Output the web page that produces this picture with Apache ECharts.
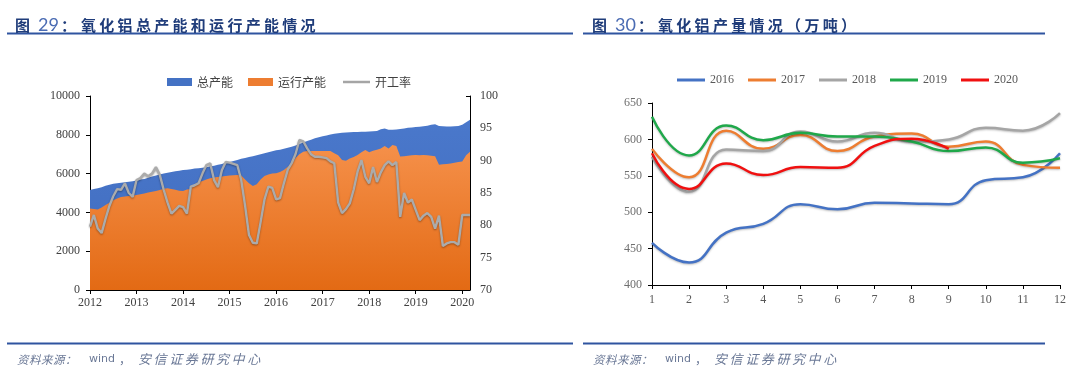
<!DOCTYPE html>
<html><head><meta charset="utf-8">
<script src="https://cdn.jsdelivr.net/npm/echarts@6/dist/echarts.min.js"></script>
<style>html,body{margin:0;padding:0;background:#fff}#c{width:1080px;height:375px}</style>
</head><body><div id="c"></div>
<script>
// ---------- Data: left chart (monthly, 2012-01 .. 2020-03) ----------
const years = [2012,2013,2014,2015,2016,2017,2018,2019,2020];
const monthCount = 99;
const monthCats = [];
years.forEach(y => { for (let m = 1; m <= 12; m++) { if (monthCats.length < monthCount) monthCats.push(y + '-' + (m < 10 ? '0' + m : m)); } });

const totalCapacity = [
  5150,5200,5250,5300,5380,5420,5480,5500,5530,5560,5580,5600,
  5650,5700,5720,5780,5850,5900,5950,6000,6050,6080,6120,6150,
  6180,6200,6230,6260,6280,6300,6330,6360,6400,6450,6500,6560,
  6600,6650,6700,6760,6800,6850,6900,6950,7000,7050,7100,7150,
  7200,7230,7280,7330,7380,7450,7520,7600,7680,7750,7820,7880,
  7930,7970,8010,8050,8080,8100,8120,8130,8140,8150,8160,8160,
  8170,8180,8200,8280,8320,8260,8260,8270,8300,8330,8360,8380,
  8400,8420,8440,8470,8520,8540,8450,8440,8430,8430,8440,8460,
  8520,8650,8780
];
const runningCapacity = [
  4200,4180,4150,4250,4380,4500,4620,4720,4800,4820,4840,4860,
  4900,4930,4980,5020,5060,5100,5150,5220,5250,5200,5170,5120,
  5100,5180,5200,5450,5550,5620,5700,5760,5800,5820,5850,5880,
  5900,5920,5930,5900,5700,5500,5360,5450,5700,5880,5950,6000,
  6020,6080,6180,6350,6500,6800,7000,7120,7160,7170,7170,7160,
  7170,7170,7160,7050,6950,6700,6660,6780,6850,6960,7100,7220,
  7100,7180,7230,7300,7420,7300,7480,7420,6880,6900,6920,6940,
  6960,6950,6960,6940,6920,6900,6460,6480,6500,6520,6560,6600,
  6620,6950,7130
];
const operatingRate = [
  79.8,81.6,79.5,78.8,81.0,83.0,84.5,85.6,85.5,86.5,85.0,84.4,
  87.0,87.3,88.0,87.6,88.0,89.0,87.8,85.5,83.5,81.8,82.4,83.0,
  82.8,81.8,86.0,86.2,86.5,88.0,89.3,89.6,87.0,85.9,88.5,89.8,
  89.7,89.5,89.3,87.0,83.0,78.5,77.3,77.2,80.5,84.0,86.0,85.8,
  84.0,84.2,86.5,88.6,89.6,91.0,93.2,93.0,91.9,91.0,90.6,90.6,
  90.5,90.4,89.9,89.6,83.5,81.9,82.5,83.4,85.5,88.3,90.1,87.5,
  86.5,89.0,86.7,88.2,89.3,89.9,89.3,89.8,81.3,85.0,83.5,84.0,
  82.4,80.8,81.5,81.9,81.3,79.5,81.5,76.8,77.2,77.4,77.4,77.0,
  81.6,81.6,81.6
];

// ---------- Data: right chart ----------
const monthNums = ['1','2','3','4','5','6','7','8','9','10','11','12'];
const prod2016 = [458,431,472,484,511,504,513,512,511,544,548,581];
const prod2017 = [587,548,612,587,606,584,604,608,590,597,565,561];
const prod2018 = [576,528,586,584,611,597,609,597,600,616,612,636];
const prod2019 = [631,578,619,599,609,604,604,597,584,589,568,574];
const prod2020 = [581,532,567,551,562,561,591,601,587];

// ---------- Text ----------
const title1Num = '29', title1Body = '氧化铝总产能和运行产能情况';
const title2Num = '30', title2Body = '氧化铝产量情况（万吨）';
const sourceA = ['资','料','来','源','：'], sourceW = 'wind', sourceB = ['安','信','证','券','研','究','中','心'];

const serif = '"Liberation Serif","DejaVu Serif",serif';
const cjk = '"Noto Sans CJK SC","Noto Sans",sans-serif';
const navy = '#1F3C7A';
const lineBlue = '#2F54A0';

function titleText(num, body) {
  return '{a|图}{n|' + num + '}{c|：}' + body.split('').map(ch => '{t|' + ch + '}').join('');
}
const titleRich = {
  a: {fontFamily: cjk, fontSize: 15, fontWeight: 'bold', color: navy, width: 23},
  n: {fontFamily: 'Lato, "Open Sans", sans-serif', fontSize: 18, fontWeight: 'normal', color: '#4A6BB3', width: 23},
  c: {fontFamily: cjk, fontSize: 15, fontWeight: 'bold', color: navy, width: 20},
  t: {fontFamily: cjk, fontSize: 15, fontWeight: 'bold', color: navy, width: 18.3}
};
function sourceText() {
  return sourceA.map((ch, i) => (i === 4 ? '{p|' : '{s|') + ch + '}').join('') + '{w|' + sourceW + '}{q|，}' + sourceB.map(ch => '{b|' + ch + '}').join('');
}
const srcColor = '#6A7896';
const sourceRich = {
  s: {fontFamily: cjk, fontSize: 11.5, fontWeight: 'normal', fontStyle: 'italic', color: srcColor, width: 12, verticalAlign: 'middle'},
  p: {fontFamily: cjk, fontSize: 11.5, fontWeight: 'normal', fontStyle: 'italic', color: srcColor, width: 24, verticalAlign: 'middle'},
  w: {fontFamily: '"DejaVu Sans",sans-serif', fontSize: 11, fontWeight: 'normal', color: srcColor, width: 30, verticalAlign: 'middle'},
  q: {fontFamily: cjk, fontSize: 12, fontWeight: 'normal', color: srcColor, width: 19, verticalAlign: 'middle'},
  b: {fontFamily: cjk, fontSize: 13, fontWeight: 'normal', fontStyle: 'italic', color: srcColor, width: 15.6, verticalAlign: 'middle'}
};

const chart = echarts.init(document.getElementById('c'));
const isJan = (i, v) => v.slice(5) === '01';
const axisBlack = {lineStyle: {color: '#000', width: 1}};
const plainNum = v => String(v);

chart.setOption({
  animation: false,
  backgroundColor: '#fff',
  title: [
    {text: titleText(title1Num, title1Body), left: 10, top: 11, textStyle: {rich: titleRich}},
    {text: titleText(title2Num, title2Body), left: 587, top: 11, textStyle: {rich: titleRich}},
    {text: sourceText(), left: 12, top: 348, textStyle: {fontWeight: 'normal', rich: sourceRich}},
    {text: sourceText(), left: 588, top: 348, textStyle: {fontWeight: 'normal', rich: sourceRich}}
  ],
  graphic: [
    {type: 'line', shape: {x1: 7, y1: 33.5, x2: 573, y2: 33.5}, style: {stroke: lineBlue, lineWidth: 2}},
    {type: 'line', shape: {x1: 583, y1: 33.5, x2: 1045, y2: 33.5}, style: {stroke: lineBlue, lineWidth: 2}},
    {type: 'line', shape: {x1: 7, y1: 343.5, x2: 573, y2: 343.5}, style: {stroke: lineBlue, lineWidth: 2}},
    {type: 'line', shape: {x1: 583, y1: 343.5, x2: 1045, y2: 343.5}, style: {stroke: lineBlue, lineWidth: 2}}
  ],
  legend: [
    {left: 162, top: 71, itemWidth: 25, itemHeight: 8, itemGap: 15,
     textStyle: {fontFamily: cjk, fontSize: 12, color: '#404040'},
     data: [{name: '总产能', icon: 'rect'}, {name: '运行产能', icon: 'rect'}]},
    {left: 338, top: 71, itemWidth: 27, itemHeight: 2.5, itemGap: 15,
     textStyle: {fontFamily: cjk, fontSize: 12, color: '#404040'},
     data: [{name: '开工率', icon: 'rect'}]},
    {left: 672, top: 69, itemWidth: 28, itemHeight: 3, itemGap: 14,
     textStyle: {fontFamily: serif, fontSize: 12, color: '#595959'},
     data: ['2016', '2017', '2018', '2019', '2020'].map(n => ({name: n, icon: 'rect'}))}
  ],
  grid: [
    {left: 90, top: 96, width: 380, height: 194},
    {left: 652, top: 103, width: 408, height: 182}
  ],
  xAxis: [
    {type: 'category', gridIndex: 0, data: monthCats, boundaryGap: false,
     axisLine: axisBlack, axisTick: {interval: isJan, length: 4, lineStyle: {color: '#000'}},
     axisLabel: {interval: isJan, formatter: v => v.slice(0, 4), fontFamily: serif, fontSize: 12, color: '#404040', margin: 7}},
    {type: 'category', gridIndex: 1, data: monthNums, boundaryGap: false,
     axisLine: axisBlack, axisTick: {length: 4, lineStyle: {color: '#000'}},
     axisLabel: {fontFamily: serif, fontSize: 12, color: '#595959', margin: 9}}
  ],
  yAxis: [
    {type: 'value', gridIndex: 0, min: 0, max: 10000, interval: 2000,
     axisLine: {show: true, lineStyle: {color: '#000'}}, axisTick: {show: true, length: 4, lineStyle: {color: '#000'}},
     splitLine: {show: false}, axisLabel: {formatter: plainNum, fontFamily: serif, fontSize: 12, color: '#404040', margin: 10}},
    {type: 'value', gridIndex: 0, position: 'right', min: 70, max: 100, interval: 5,
     axisLine: {show: true, lineStyle: {color: '#000'}}, axisTick: {show: true, inside: true, length: 4, lineStyle: {color: '#000'}},
     splitLine: {show: false}, axisLabel: {formatter: plainNum, fontFamily: serif, fontSize: 12, color: '#404040', margin: 10}},
    {type: 'value', gridIndex: 1, min: 400, max: 650, interval: 50,
     axisLine: {show: true, lineStyle: {color: '#000'}}, axisTick: {show: true, length: 4, lineStyle: {color: '#000'}},
     splitLine: {show: false}, axisLabel: {formatter: plainNum, fontFamily: serif, fontSize: 12, color: '#6F6F6F', margin: 10}}
  ],
  series: [
    {name: '总产能', type: 'line', xAxisIndex: 0, yAxisIndex: 0, data: totalCapacity, symbol: 'none',
     itemStyle: {color: '#4472C4'}, lineStyle: {width: 0},
     areaStyle: {opacity: 1, color: new echarts.graphic.LinearGradient(0, 0, 0, 1, [{offset: 0, color: '#4A78CB'}, {offset: 1, color: '#3F6BBE'}])}},
    {name: '运行产能', type: 'line', xAxisIndex: 0, yAxisIndex: 0, data: runningCapacity, symbol: 'none',
     itemStyle: {color: '#ED7D31'}, lineStyle: {width: 0},
     areaStyle: {opacity: 1, color: new echarts.graphic.LinearGradient(0, 0, 0, 1, [{offset: 0, color: '#F5904A'}, {offset: 1, color: '#E36A14'}])}},
    {name: '开工率', type: 'line', xAxisIndex: 0, yAxisIndex: 1, data: operatingRate, symbol: 'none',
     itemStyle: {color: '#A5A5A5'},
     lineStyle: {width: 2.4, color: '#ABABAB', shadowColor: 'rgba(0,0,0,0.35)', shadowBlur: 2, shadowOffsetY: 1}},

    {name: '2016', type: 'line', xAxisIndex: 1, yAxisIndex: 2, data: prod2016, smooth: true, symbol: 'none',
     itemStyle: {color: '#4472C4'}, lineStyle: {width: 2.5, shadowColor: 'rgba(0,0,0,0.25)', shadowBlur: 2, shadowOffsetY: 1}},
    {name: '2017', type: 'line', xAxisIndex: 1, yAxisIndex: 2, data: prod2017, smooth: true, symbol: 'none',
     itemStyle: {color: '#ED7D31'}, lineStyle: {width: 2.5, shadowColor: 'rgba(0,0,0,0.25)', shadowBlur: 2, shadowOffsetY: 1}},
    {name: '2018', type: 'line', xAxisIndex: 1, yAxisIndex: 2, data: prod2018, smooth: true, symbol: 'none',
     itemStyle: {color: '#A5A5A5'}, lineStyle: {width: 2.5, shadowColor: 'rgba(0,0,0,0.25)', shadowBlur: 2, shadowOffsetY: 1}},
    {name: '2019', type: 'line', xAxisIndex: 1, yAxisIndex: 2, data: prod2019, smooth: true, symbol: 'none',
     itemStyle: {color: '#1FA84A'}, lineStyle: {width: 2.5, shadowColor: 'rgba(0,0,0,0.25)', shadowBlur: 2, shadowOffsetY: 1}},
    {name: '2020', type: 'line', xAxisIndex: 1, yAxisIndex: 2, data: prod2020, smooth: true, symbol: 'none',
     itemStyle: {color: '#F01010'}, lineStyle: {width: 2.5, shadowColor: 'rgba(0,0,0,0.25)', shadowBlur: 2, shadowOffsetY: 1}}
  ]
});
</script>
</body></html>
